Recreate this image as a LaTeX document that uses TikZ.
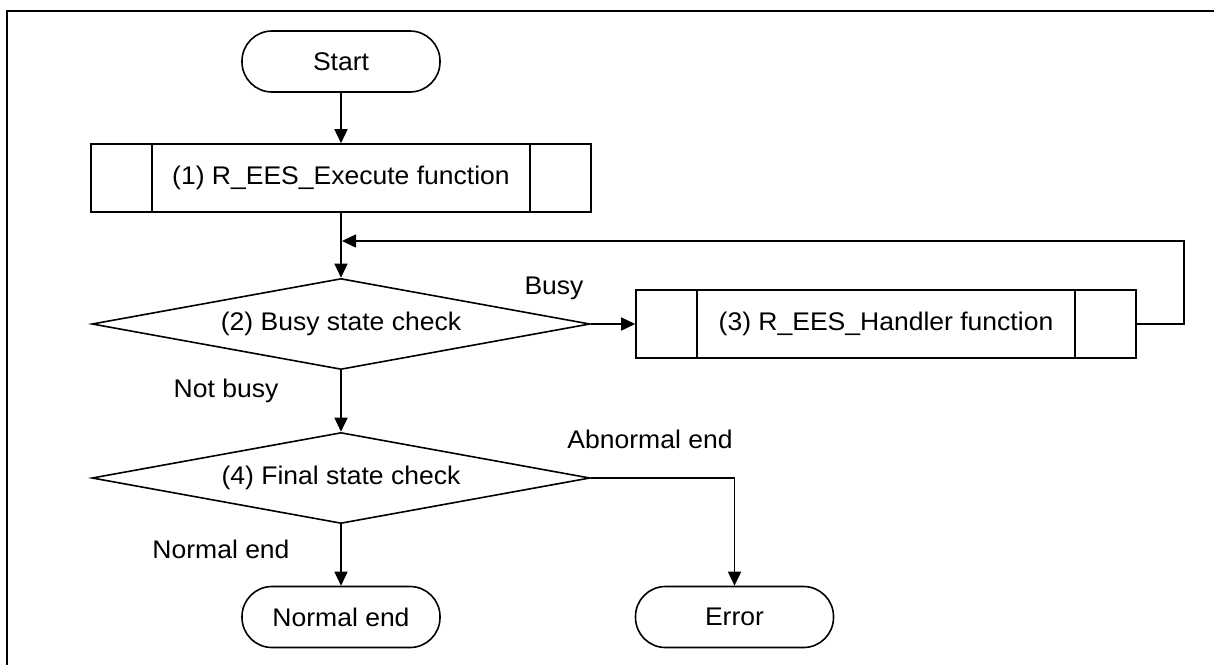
\documentclass[tikz,border=0pt]{standalone}
\usepackage{fontspec}
\setmainfont[FakeStretch=1.04]{Liberation Sans}
\usetikzlibrary{shapes.geometric,arrows.meta}
\begin{document}
\begin{tikzpicture}[x=1pt,y=-1pt, line width=1.6pt,
  every node/.style={font=\fontsize{25.5}{30}\selectfont},
  term/.style={draw, rounded corners=30pt, minimum width=198pt, minimum height=61pt, inner sep=0pt},
  proc/.style={draw, minimum width=500pt, minimum height=68pt, inner sep=0pt},
  dec/.style={draw, diamond, aspect=5.5, minimum width=498pt, minimum height=91pt, inner sep=0pt},
  lbl/.style={anchor=base, inner sep=0pt},
  arr/.style={-{Triangle[length=14pt,width=13pt]}}
]
\useasboundingbox (0,0) rectangle (1214,664);
\draw[line width=2pt] (7,700) -- (7,11) -- (1250,11);

\node[term] (start) at (341,61.5) {Start};
\node[proc] (p1) at (341,178) {(1) R\_EES\_Execute function};
\node[dec] (d2) at (341,324) {(2) Busy state check};
\node[proc] (p3) at (886,324) {(3) R\_EES\_Handler function};
\node[dec] (d4) at (341,478) {(4) Final state check};
\node[term] (nend) at (341,617) {Normal end};
\node[term] (err) at (734.5,617) {Error};

\foreach \n in {p1,p3} {
  \draw ([xshift=62pt]\n.north west) -- ([xshift=62pt]\n.south west);
  \draw ([xshift=-62pt]\n.north east) -- ([xshift=-62pt]\n.south east);
}

\coordinate (loopR) at (1184,241);
\coordinate (loopJ) at (342,241);

\draw[arr] (start) -- (p1);
\draw[arr] (p1) -- (d2);
\draw[arr] (d2) -- (d4);
\draw[arr] (d2.east) -- (p3.west);
\draw[arr] (p3.east) -| (loopR) -- (loopJ);
\draw[arr] (d4) -- (nend);
\draw[arr] (d4.east) -| (err.north);

\node[lbl] (lbusy) at (554,294) {Busy};
\node[lbl] (lnot) at (226,397) {Not busy};
\node[lbl] (lnorm) at (221,558) {Normal end};
\node[lbl] (labn) at (650,448) {Abnormal end};
\end{tikzpicture}
\end{document}
